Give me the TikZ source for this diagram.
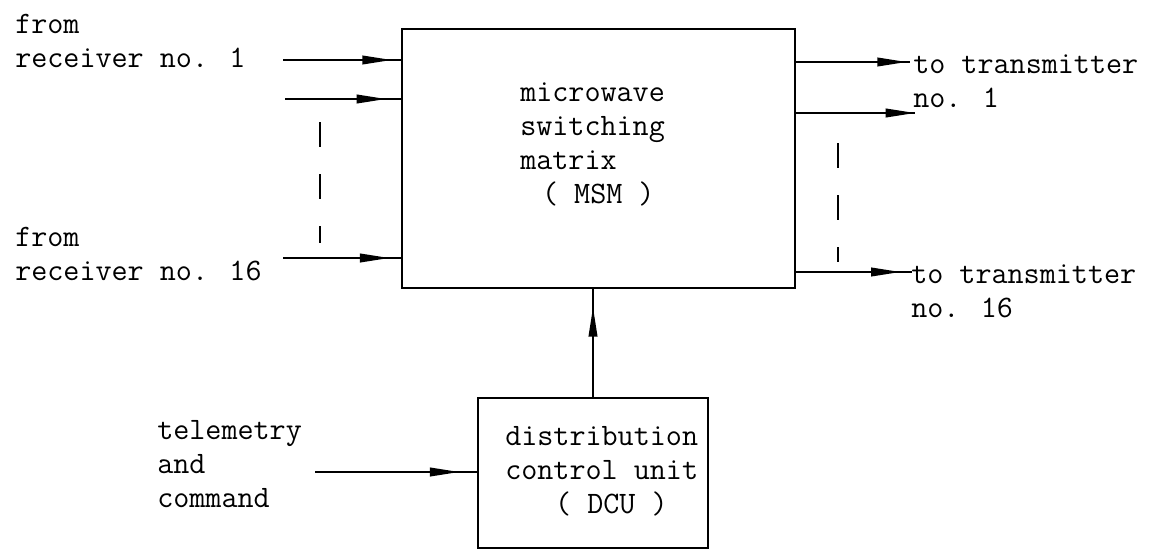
\documentclass[tikz,border=0pt]{standalone}
\usetikzlibrary{arrows.meta,decorations.markings}
\tikzset{
  lbl/.style={font=\ttfamily\fontsize{23.4}{25.5}\selectfont, align=left, inner sep=0pt, anchor=base west},
  blk/.style={draw, line width=1.4pt, inner sep=0pt},
  conn/.style={line width=1.3pt},
  midtip/.style={conn, postaction={decorate}, decoration={markings,
      mark=at position #1 with {\arrow{Triangle[length=22pt,width=6.5pt]}}}},
  dashln/.style={line width=1.5pt, dash pattern=on 19pt off 20pt}
}
\begin{document}
\begin{tikzpicture}[x=0.75pt,y=-0.75pt]
\useasboundingbox (0,0) rectangle (1154,557);
% blocks
\node[blk, minimum width=294.75pt, minimum height=194.25pt] (msm) at (598.5,158.5) {};
\node[blk, minimum width=172.5pt, minimum height=112.5pt] (dcu) at (593,473) {};
% block texts (anchor = baseline of last line)
\node[lbl] (msmtxt) at (520,203) {microwave\\switching\\matrix\\\hspace*{0.7em}( MSM )};
\node[lbl] (dcutxt) at (505,513) {distribution\\control unit\\\hspace*{1.6em}( DCU )};
% side labels
\node[lbl] (rx1) at (15,67) {from\\receiver no. 1};
\node[lbl] (rx16) at (15,280) {from\\receiver no. 16};
\node[lbl] (tx1) at (913,107) {to transmitter\\no. 1};
\node[lbl] (tx16) at (911,317) {to transmitter\\no. 16};
\node[lbl] (tc) at (157,507) {telemetry\\and\\command};
% free ends
\coordinate (i1) at (283,60);
\coordinate (i2) at (285,99);
\coordinate (i3) at (283,258);
\coordinate (o1) at (910,62);
\coordinate (o2) at (915,113);
\coordinate (o3) at (912,272);
\coordinate (tcin) at (315,472);
\coordinate (dl1) at (320,122);
\coordinate (dl2) at (320,243);
\coordinate (dr1) at (838,143);
\coordinate (dr2) at (838,262);
% input connectors
\draw[midtip=0.92] (i1) -- (i1 -| msm.west);
\draw[midtip=0.87] (i2) -- (i2 -| msm.west);
\draw[midtip=0.90] (i3) -- (i3 -| msm.west);
% output connectors
\draw[midtip=0.97] (o1 -| msm.east) -- (o1);
\draw[midtip=1.0] (o2 -| msm.east) -- (o2);
\draw[midtip=0.90] (o3 -| msm.east) -- (o3);
% control
\draw[midtip=0.83] (dcu.north) -- (dcu.north |- msm.south);
\draw[midtip=0.89] (tcin) -- (tcin -| dcu.west);
% dashed continuation marks
\draw[dashln] (dl1) -- (dl2);
\draw[dashln] (dr1) -- (dr2);
\end{tikzpicture}
\end{document}
